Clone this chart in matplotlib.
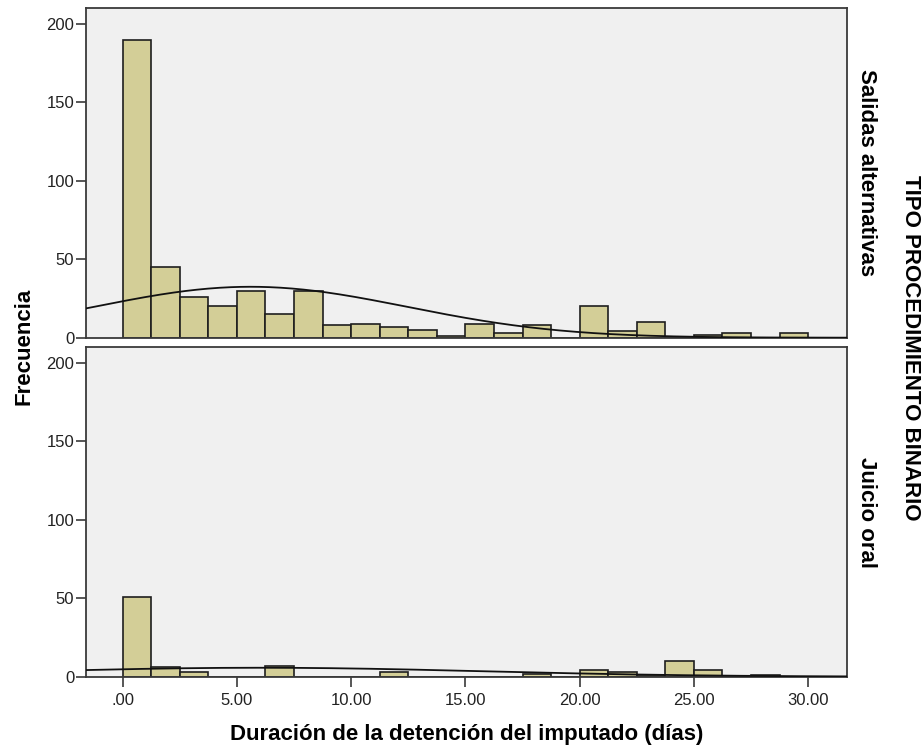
import numpy as np
import matplotlib
matplotlib.use("Agg")
import matplotlib.pyplot as plt

plt.rcParams['font.family'] = ['Liberation Sans', 'DejaVu Sans']

BIN_WIDTH = 1.25
# histogram bins start at 0 and go up in steps of BIN_WIDTH
salidas_counts = [190, 45, 26, 20, 30, 15, 30, 8, 9, 7, 5, 1,
                  9, 3, 8, 0, 20, 4, 10, 0, 2, 3, 0, 3]
juicio_counts = [51, 6, 3, 0, 0, 7, 0, 0, 0, 3, 0, 0,
                 0, 0, 2, 0, 4, 3, 1, 10, 4, 0, 1, 0]

# normal curve: (cases, mean, sd)
salidas_fit = (446, 5.6, 6.85)
juicio_fit = (112, 6.0, 9.8)

panel_names = ['Salidas alternativas', 'Juicio oral']
x_ticks = [0, 5, 10, 15, 20, 25, 30]
x_tick_labels = ['.00', '5.00', '10.00', '15.00', '20.00', '25.00', '30.00']
y_ticks = [0, 50, 100, 150, 200]

BAR_COLOR = '#D3CE97'
PANEL_BG = '#F0F0F0'
FRAME = '#3A3A3A'
X_LIM = (-1.6, 31.7)
Y_LIM = (0, 210)


def draw_panel(ax, counts, fit):
    edges = np.arange(len(counts)) * BIN_WIDTH
    ax.set_facecolor(PANEL_BG)
    ax.bar(edges, counts, width=BIN_WIDTH, align='edge', color=BAR_COLOR,
           edgecolor='#1E1E1E', linewidth=1.2, zorder=2)
    n, mean, sd = fit
    xs = np.linspace(X_LIM[0], X_LIM[1], 400)
    ys = n * BIN_WIDTH * np.exp(-0.5 * ((xs - mean) / sd) ** 2) / (sd * np.sqrt(2 * np.pi))
    ax.plot(xs, ys, color='#111111', linewidth=1.3, zorder=3)
    ax.set_xlim(X_LIM)
    ax.set_ylim(Y_LIM)
    ax.set_yticks(y_ticks)
    ax.tick_params(axis='y', direction='out', length=7.5, width=1.2,
                   color=FRAME, labelsize=12, pad=1, labelcolor='#222222')
    for spine in ax.spines.values():
        spine.set_color(FRAME)
        spine.set_linewidth(1.3)


def main():
    fig = plt.figure(figsize=(9.22, 7.45), dpi=100)
    ax_top = fig.add_axes([0.0933, 0.5467, 0.8254, 0.4422])
    ax_bot = fig.add_axes([0.0933, 0.0917, 0.8254, 0.4421])

    draw_panel(ax_top, salidas_counts, salidas_fit)
    draw_panel(ax_bot, juicio_counts, juicio_fit)

    ax_top.set_xticks([])
    ax_bot.set_xticks(x_ticks)
    ax_bot.set_xticklabels(x_tick_labels)
    ax_bot.tick_params(axis='x', direction='out', length=7.5, width=1.2,
                       color=FRAME, labelsize=12, pad=4, labelcolor='#222222')
    ax_bot.set_xlabel('Duración de la detención del imputado (días)',
                      fontsize=16, fontweight='bold', labelpad=12)

    fig.text(0.026, 1 - 346 / 745, 'Frecuencia', rotation=90, fontsize=16,
             fontweight='bold', ha='center', va='center')

    for ax, name in zip([ax_top, ax_bot], panel_names):
        ax.text(1.025, 0.5, name, transform=ax.transAxes, rotation=270,
                fontsize=16, fontweight='bold', ha='center', va='center')
    fig.text(910 / 922, 1 - 348 / 745, 'TIPO PROCEDIMIENTO BINARIO',
             rotation=270, fontsize=16, fontweight='bold',
             ha='center', va='center')

    fig.savefig('out.png', dpi=100, facecolor='white')


if __name__ == "__main__":
    main()
